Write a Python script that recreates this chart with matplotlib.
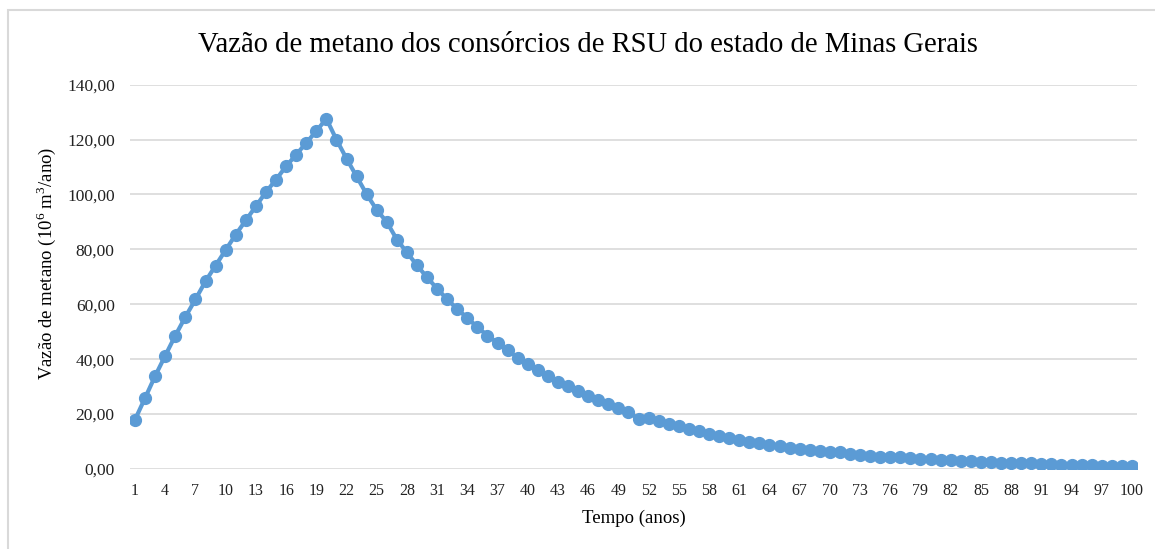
import matplotlib
matplotlib.use('Agg')
import matplotlib.pyplot as plt
from matplotlib.patches import Rectangle

plt.rcParams['font.family'] = ['Liberation Serif', 'DejaVu Serif']
plt.rcParams['mathtext.fontset'] = 'custom'
plt.rcParams['mathtext.rm'] = 'Liberation Serif'

# tempo (anos) e vazao de metano (10^6 m3/ano)
anos = list(range(1, 101))
vazao = [
    18.0, 25.9, 33.9, 41.3, 48.6, 55.4, 61.8, 68.4, 74.1, 79.8,
    85.4, 90.6, 95.7, 100.9, 105.4, 110.3, 114.5, 118.8, 123.1, 127.6,
    120.0, 113.1, 106.6, 100.1, 94.4, 90.0, 83.6, 78.9, 74.2, 69.8,
    65.7, 61.8, 58.3, 55.0, 51.7, 48.6, 46.0, 43.2, 40.6, 38.4,
    36.0, 33.8, 31.8, 30.1, 28.3, 26.5, 25.0, 23.6, 22.1, 20.8,
    18.2, 18.7, 17.5, 16.5, 15.6, 14.7, 13.7, 12.9, 12.0, 11.3,
    10.5, 9.8, 9.3, 8.7, 8.3, 7.7, 7.4, 6.9, 6.6, 6.3,
    6.1, 5.6, 5.2, 4.9, 4.5, 4.4, 4.2, 3.9, 3.6, 3.6,
    3.4, 3.2, 2.9, 2.9, 2.7, 2.7, 2.3, 2.3, 2.3, 2.1,
    2.0, 2.0, 1.6, 1.6, 1.6, 1.5, 1.2, 1.2, 1.2, 1.1,
]
yticks = [0, 20, 40, 60, 80, 100, 120, 140]
xticks = anos[::3]

fig = plt.figure(figsize=(11.55, 5.49), dpi=100)
# moldura cinza do grafico (sai da imagem a direita e embaixo)
fig.patches.append(Rectangle((8 / 1155, -0.1), 1.2, 1 - 10 / 549 + 0.1,
                             transform=fig.transFigure, fill=False,
                             edgecolor='#D9D9D9', linewidth=1.5))

ax = fig.add_axes([130 / 1155, 1 - 469 / 549, 1007 / 1155, (469 - 84.7) / 549])
ax.plot(anos, vazao, color='#5B9BD5', linewidth=3, marker='o',
        markersize=8.5, zorder=3)

ax.set_xlim(0.5, 100.5)
ax.set_ylim(0, 140)
ax.set_yticks(yticks)
ax.set_yticklabels([f'{v:.2f}'.replace('.', ',') for v in yticks])
ax.set_xticks(xticks)
ax.set_xticklabels([str(v) for v in xticks])
ax.tick_params(length=0, colors='#222222')
ax.tick_params(axis='x', pad=10, labelsize=11.5)
ax.tick_params(axis='y', pad=11, labelsize=12.5)
ax.grid(axis='y', color='#D9D9D9', linewidth=1.2)
ax.set_axisbelow(True)
for s in ax.spines.values():
    s.set_visible(False)

ax.set_ylabel('Vazão de metano (10$^{6}$ m$^{3}$/ano)', fontsize=13.5)
ax.yaxis.set_label_coords(-0.0715, 0.536)
ax.set_xlabel('Tempo (anos)', fontsize=13.5, labelpad=8)
fig.text(588 / 1155, 1 - 45 / 549,
         'Vazão de metano dos consórcios de RSU do estado de Minas Gerais',
         ha='center', va='center', fontsize=20.6)

fig.savefig('out.png', dpi=100, facecolor='white')
